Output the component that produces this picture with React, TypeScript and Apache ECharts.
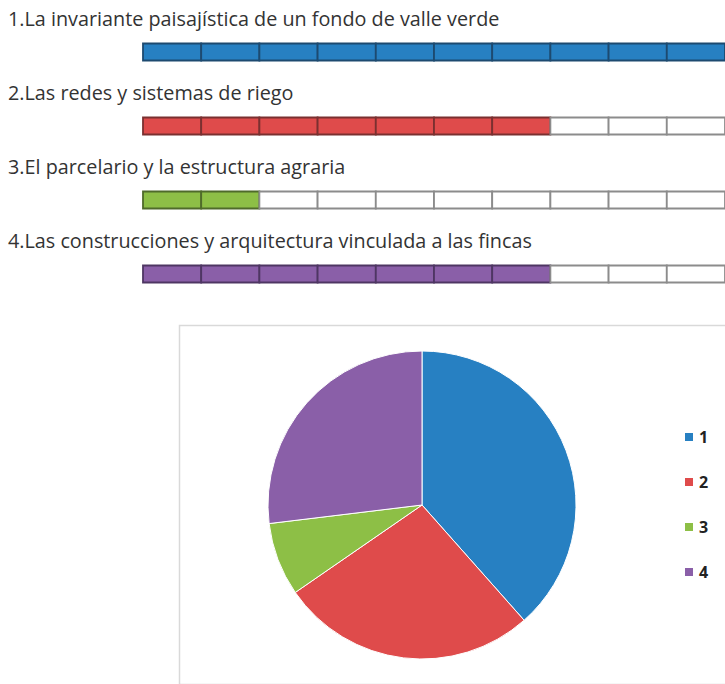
import React, { useEffect, useRef } from "react";
import * as echarts from "echarts";

const categories = [
  "1.La invariante paisajística de un fondo de valle verde",
  "2.Las redes y sistemas de riego",
  "3.El parcelario y la estructura agraria",
  "4.Las construcciones y arquitectura vinculada a las fincas",
];
const legendNames = ["1", "2", "3", "4"];
const values = [10, 7, 2, 7];
const maxScore = 10;
const colors = ["#2780c2", "#df4b4b", "#8dbf46", "#8a5fa8"];
const darkColors = ["#1d4a70", "#7a3030", "#4f6b2a", "#4e3663"];

export default function App() {
  const ref = useRef<HTMLDivElement>(null);
  useEffect(() => {
    document.body.style.margin = "0";
    const chart = echarts.init(ref.current!, null, { renderer: "svg" });
    const font = "Open Sans";
    chart.setOption({
      animation: false,
      backgroundColor: "#ffffff",
      graphic: [
        {
          type: "rect",
          left: 177,
          top: 323,
          z: -1,
          shape: { width: 600, height: 359 },
          style: { fill: "none", stroke: "#d9d9d9", lineWidth: 1.5 },
        },
      ],
      grid: { left: 143, top: 15, width: 586, height: 296 },
      xAxis: { type: "value", min: 0, max: maxScore, show: false },
      yAxis: { type: "category", data: categories, inverse: true, show: false },
      legend: {
        data: legendNames,
        orient: "vertical",
        left: 678,
        top: 424,
        itemWidth: 10,
        itemHeight: 10,
        itemGap: 29,
        icon: "rect",
        textStyle: { fontFamily: font, fontWeight: "bold", fontSize: 16, color: "#222" },
      },
      series: [
        {
          type: "custom",
          clip: false,
          data: values.map((v, i) => [v, i]),
          renderItem: (params: any, api: any) => {
            const v = api.value(0);
            const row = api.value(1);
            const children: any[] = [];
            for (let k = 0; k < maxScore; k++) {
              const a = api.coord([k, row]);
              const b = api.coord([k + 1, row]);
              const filled = k < v;
              children.push({
                type: "rect",
                shape: { x: a[0], y: a[1] - 8.5, width: b[0] - a[0], height: 17 },
                style: {
                  fill: filled ? colors[row] : "#ffffff",
                  stroke: filled ? darkColors[row] : "#8c8c8c",
                  lineWidth: 1.8,
                },
              });
            }
            const c = api.coord([0, row]);
            children.push({
              type: "text",
              style: {
                text: categories[row],
                x: 8,
                y: c[1] - 34,
                verticalAlign: "middle",
                align: "left",
                fontFamily: font,
                fontSize: 19.8,
                fill: "#333333",
              },
            });
            return { type: "group", children };
          },
        },
        {
          type: "pie",
          center: [422, 505],
          radius: 154,
          startAngle: 90,
          clockwise: true,
          label: { show: false },
          labelLine: { show: false },
          itemStyle: { borderColor: "#ffffff", borderWidth: 1 },
          data: values.map((v, i) => ({
            name: legendNames[i],
            value: v,
            itemStyle: { color: colors[i] },
          })),
        },
      ],
    });
    return () => chart.dispose();
  }, []);
  return <div ref={ref} style={{ width: 725, height: 684 }} />;
}
